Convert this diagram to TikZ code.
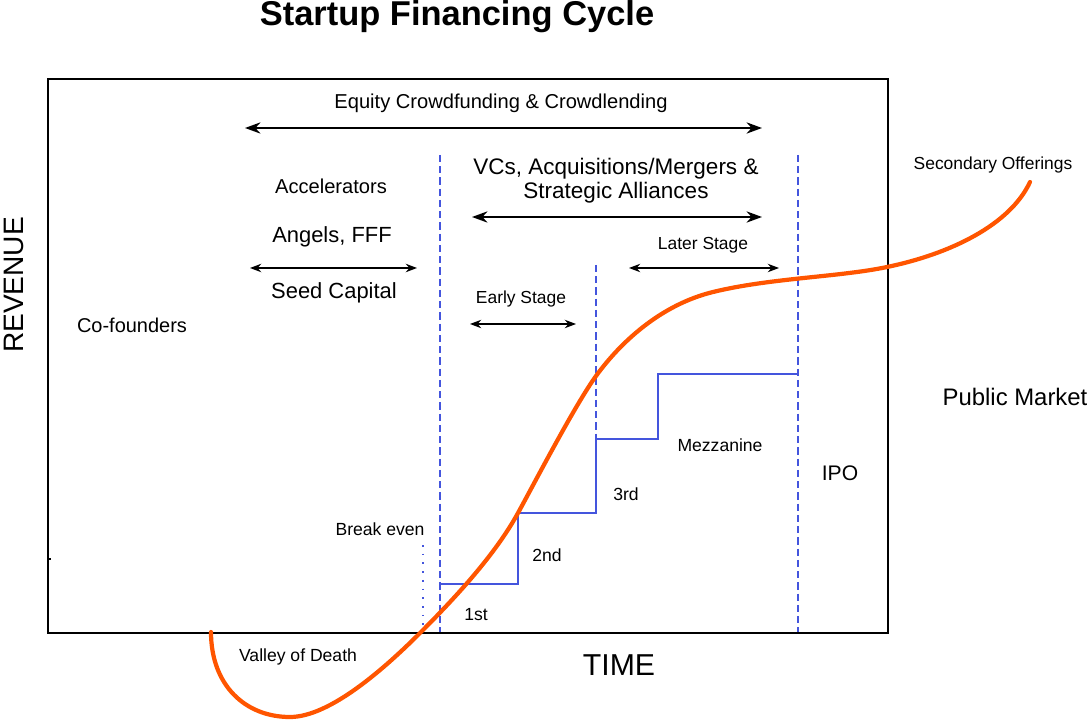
\documentclass[tikz,border=0pt]{standalone}
\usepackage{fontspec}
\setmainfont{Liberation Sans}
\usetikzlibrary{arrows.meta}
\definecolor{curveorange}{RGB}{255,85,0}
\definecolor{stageblue}{RGB}{68,85,221}
\tikzset{
  lbl/.style={inner sep=1pt, font=\fontsize{#1}{#1}\selectfont},
  lbl/.default=13,
  bigarrow/.style={line width=1.5pt, {Stealth[length=11pt,width=8pt]}-{Stealth[length=11pt,width=8pt]}},
  smallarrow/.style={line width=0.9pt, {Stealth[length=8pt,width=6pt]}-{Stealth[length=8pt,width=6pt]}},
  divider/.style={stageblue, line width=1.2pt, dash pattern=on 5pt off 3pt},
  stairs/.style={stageblue, line width=1.4pt},
  growth/.style={curveorange, line width=3pt, line cap=round}
}
\begin{document}
\begin{tikzpicture}[x=0.025cm, y=-0.025cm]
\useasboundingbox (0,0) rectangle (1090,720);
% frame
\node[draw, line width=1.3pt, minimum width=840*0.025cm, minimum height=554*0.025cm, inner sep=0, anchor=north west] (frame) at (47,78) {};
\coordinate (tick) at (49,559);
\draw[line width=1pt] (tick) -- ++(2,0);
% title
\node[lbl=24.5, font=\fontsize{24.5}{24.5}\selectfont\bfseries] (title) at (457,17) {Startup Financing Cycle};
% axis labels
\node[lbl=21.5] (time) at (619,665) {TIME};
\node[lbl=20, rotate=90] (revenue) at (14,285) {REVENUE};
% dividers
\coordinate (d1t) at (440,155); \coordinate (d1b) at (440,632);
\coordinate (d2t) at (596,265); \coordinate (d2b) at (596,439);
\coordinate (d3t) at (798,155); \coordinate (d3b) at (798,632);
\draw[divider] (d1t) -- (d1b);
\draw[divider] (d2t) -- (d2b);
\draw[divider] (d3t) -- (d3b);
\coordinate (bet) at (423,545); \coordinate (beb) at (423,632);
\draw[stageblue, line width=1.2pt, dash pattern=on 1.2pt off 5pt] (bet) -- (beb);
% stairs
\coordinate (s0) at (440,584);
\coordinate (s1) at (518,584);
\coordinate (s2) at (518,513);
\coordinate (s3) at (596,513);
\coordinate (s4) at (596,439);
\coordinate (s5) at (658,439);
\coordinate (s6) at (658,374);
\coordinate (s7) at (798,374);
\draw[stairs] (s0) -- (s1) -- (s2) -- (s3) -- (s4) -- (s5) -- (s6) -- (s7);
% texts
\node[lbl=14.3] (equity) at (501,103) {Equity Crowdfunding \& Crowdlending};
\node[lbl=14.3] (accel) at (331,186) {Accelerators};
\node[lbl=15.6] (angels) at (332,237) {Angels, FFF};
\node[lbl=15.6] (seed) at (334,293) {Seed Capital};
\node[lbl=14.2] (cofound) at (132,325) {Co-founders};
\node[lbl=16, align=center] (vcs) at (616,181) {VCs, Acquisitions/Mergers \&\\[1pt]Strategic Alliances};
\node[lbl=12.4] (early) at (521,299) {Early Stage};
\node[lbl=12.4] (later) at (703,245) {Later Stage};
\node[lbl=12.5] (first) at (476,615) {1st};
\node[lbl=12.5] (second) at (547,555) {2nd};
\node[lbl=12.5] (third) at (626,494) {3rd};
\node[lbl=12.5] (mezz) at (720,445) {Mezzanine};
\node[lbl=15] (ipo) at (840,473) {IPO};
\node[lbl=17] (public) at (1015,397) {Public Market};
\node[lbl=12.4] (secondary) at (993,165) {Secondary Offerings};
\node[lbl=12.5] (breakeven) at (380,529) {Break even};
\node[lbl=12.5] (valley) at (298,657) {Valley of Death};
% arrows
\coordinate (ea) at (245,128); \coordinate (eb) at (762,128);
\draw[bigarrow] (ea) -- (eb);
\coordinate (va) at (472,217); \coordinate (vb) at (762,217);
\draw[bigarrow] (va) -- (vb);
\coordinate (sa) at (250,268); \coordinate (sb) at (417,268);
\draw[smallarrow, line width=1.2pt] (sa) -- (sb);
\coordinate (la) at (629,268); \coordinate (lb) at (779,268);
\draw[smallarrow] (la) -- (lb);
\coordinate (ya) at (470,324); \coordinate (yb) at (576,324);
\draw[smallarrow] (ya) -- (yb);
% growth curve
\coordinate (c0) at (211,632);
\coordinate (c1) at (290,717);
\coordinate (c2) at (420,633);
\coordinate (c3) at (518,513);
\coordinate (c4) at (596,376);
\coordinate (c5) at (713,292);
\coordinate (c6) at (887,267);
\coordinate (c7) at (1030,182);
\draw[growth] (c0) .. controls (211,685) and (245,717) .. (c1)
  .. controls (330,717) and (385,668) .. (c2)
  .. controls (455,598) and (495,555) .. (c3)
  .. controls (535,482) and (575,405) .. (c4)
  .. controls (620,343) and (660,305) .. (c5)
  .. controls (770,278) and (840,277) .. (c6)
  .. controls (950,254) and (1010,225) .. (c7);
\end{tikzpicture}
\end{document}
